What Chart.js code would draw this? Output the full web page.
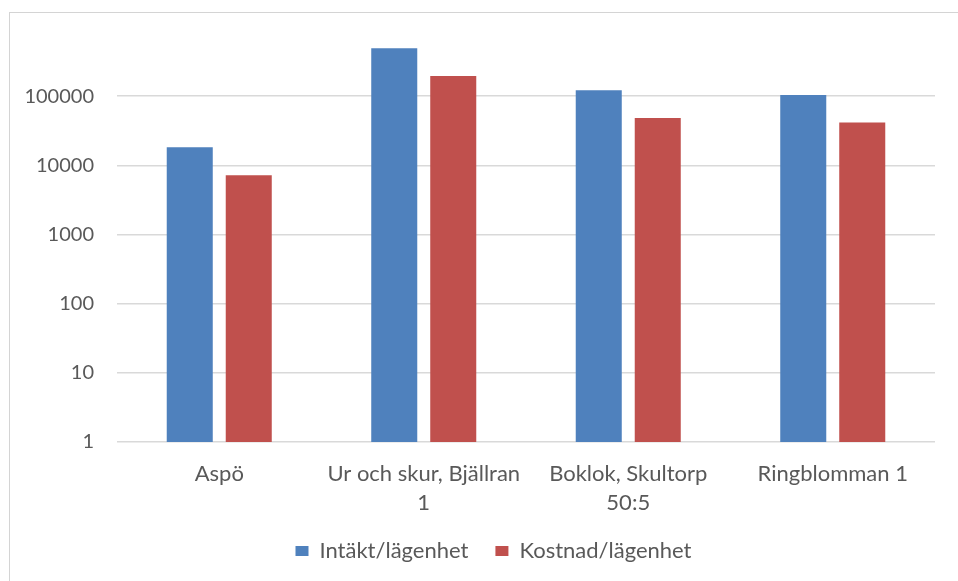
<!DOCTYPE html>
<html>
<head>
<meta charset="utf-8">
<script src="https://cdn.jsdelivr.net/npm/chart.js@4/dist/chart.umd.min.js"></script>
<style>
  html, body { margin: 0; padding: 0; background: #fff; }
  #wrap { position: relative; width: 958px; height: 581px; overflow: hidden; }
  #frame { position: absolute; left: 9px; top: 12px; width: 960px; height: 580px; border: 1px solid #d4d4d4; }
  canvas { position: absolute; left: 0; top: 0; }
</style>
</head>
<body>
<div id="wrap">
  <div id="frame"></div>
  <canvas id="chart" width="958" height="581"></canvas>
</div>
<script>
const categories = ["Aspö", ["Ur och skur, Bjällran", "1"], ["Boklok, Skultorp", "50:5"], "Ringblomman 1"];
const intakt = [18200, 491000, 122000, 104000];
const kostnad = [7200, 195000, 48500, 41600];
const yTicks = [1, 10, 100, 1000, 10000, 100000];

const textColor = "#595959";
const gridColor = "#d9d9d9";
const font = "Lato, 'Open Sans', sans-serif";

// the legend is centred on the whole frame, not on the plot
const shiftLegend = {
  id: "shiftLegend",
  afterLayout(chart) {
    chart.legend.left += 26;
    chart.legend.right += 26;
  },
};

const ctx = document.getElementById("chart").getContext("2d");
new Chart(ctx, {
  type: "bar",
  data: {
    labels: categories,
    datasets: [
      {
        label: "Intäkt/lägenhet",
        data: intakt,
        backgroundColor: "#4f81bd",
        categoryPercentage: 0.577,
        barPercentage: 0.78,
      },
      {
        label: "Kostnad/lägenhet",
        data: kostnad,
        backgroundColor: "#c0504d",
        categoryPercentage: 0.577,
        barPercentage: 0.78,
      },
    ],
  },
  options: {
    responsive: false,
    animation: false,
    layout: { padding: { left: 0, right: 23, top: 27, bottom: 9 } },
    plugins: {
      tooltip: { enabled: false },
      legend: {
        position: "bottom",
        labels: {
          color: textColor,
          font: { family: font, size: 22 },
          boxWidth: 13,
          boxHeight: 10,
          padding: 27,
        },
      },
    },
    scales: {
      x: {
        grid: { display: false, drawTicks: false },
        border: { display: false },
        ticks: {
          color: textColor,
          font: { family: font, size: 22, lineHeight: 1.32 },
          padding: 17,
          maxRotation: 0,
          autoSkip: false,
        },
        afterFit: (s) => { s.height = 71; },
      },
      y: {
        type: "logarithmic",
        min: 1,
        max: 1000000,
        border: { display: false },
        grid: { color: gridColor, lineWidth: 1.5, drawTicks: true, tickLength: 23, tickColor: "rgba(0,0,0,0)" },
        afterBuildTicks: (s) => { s.ticks = yTicks.map((v) => ({ value: v })); },
        ticks: {
          color: textColor,
          font: { family: font, size: 20 },
          padding: 0,
          callback: (v) => String(v),
        },
        afterFit: (s) => { s.width = 117; },
      },
    },
  },
  plugins: [shiftLegend],
});
</script>
</body>
</html>
